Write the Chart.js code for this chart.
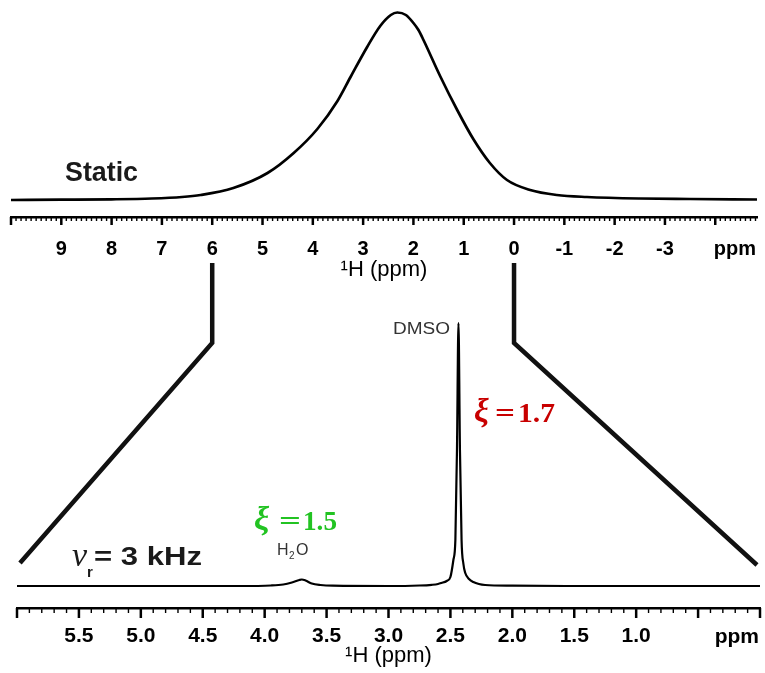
<!DOCTYPE html>
<html>
<head>
<meta charset="utf-8">
<title>1H NMR: static vs 3 kHz MAS</title>
<script src="https://cdn.jsdelivr.net/npm/chart.js@4.4.0/dist/chart.umd.min.js"></script>
<style>
  body { margin: 0; background: #fff; }
  #wrap { position: relative; width: 765px; height: 673px; }
  #wrap canvas { position: absolute; left: 0; top: 0; }
</style>
</head>
<body>
<div id="wrap">
  <canvas id="static-chart" width="765" height="300"></canvas>
  <canvas id="mas-chart" width="765" height="673"></canvas>
</div>
<script>
// static spectrum (ppm, intensity in px above baseline)
const staticPpm = [10.0, 9.0, 8.0, 7.2, 6.6, 6.23, 5.58, 4.9, 4.38, 3.91, 3.51, 3.25, 2.92, 2.66, 2.45, 2.32, 2.15, 2.0, 1.9, 1.8, 1.47, 1.13, 0.81, 0.48, 0.14, -0.32, -0.85, -1.45, -2.5, -3.5, -4.83];
const staticInt = [0, 0.3, 0.7, 1.5, 3, 5, 12, 27, 47, 71, 99, 123, 153, 174, 185, 187.5, 185, 177, 170, 160, 124, 90, 61, 37, 20, 10, 5, 3, 1.5, 1, 0.5];

// 3 kHz MAS spectrum (H2O near 3.7 ppm, DMSO at 2.44 ppm)
const masPpm = [6.0, 4.2, 3.95, 3.85, 3.78, 3.72, 3.7, 3.67, 3.62, 3.55, 3.45, 3.0, 2.75, 2.65, 2.6, 2.573, 2.53, 2.5, 2.476, 2.46, 2.447, 2.435, 2.423, 2.41, 2.395, 2.38, 2.35, 2.315, 2.27, 2.22, 2.0, 1.5, 0.0];
const masInt = [0, 0, 0.5, 1.5, 3.5, 6, 6.5, 5.5, 2.5, 1, 0.3, 0, 0.5, 1.2, 2, 3, 5, 9, 26, 46, 136, 263, 136, 46, 22, 13, 7, 4, 2, 1, 0.3, 0, 0];

// labelled ticks
const staticTicks = [9, 8, 7, 6, 5, 4, 3, 2, 1, 0, -1, -2, -3];
const masTicks = [5.5, 5.0, 4.5, 4.0, 3.5, 3.0, 2.5, 2.0, 1.5, 1.0];

const SANS = "'Liberation Sans', Arial, sans-serif";
const SERIF = "'Liberation Serif', 'Times New Roman', serif";

// major + minor tick marks hanging under the axis line
function tickMarks(from, to, majorEvery, majorLen, minorLen) {
  return {
    id: 'tickMarks',
    afterDraw(chart) {
      const sx = chart.scales.x;
      const y0 = chart.chartArea.bottom;
      const ctx = chart.ctx;
      const n = Math.round((from - to) / 0.1);
      ctx.save();
      ctx.strokeStyle = '#000';
      for (let i = 0; i <= n; i++) {
        const major = i % majorEvery === 0;
        const px = sx.getPixelForValue(from - i * 0.1);
        ctx.lineWidth = major ? 2.5 : 1.4;
        ctx.beginPath();
        ctx.moveTo(px, y0);
        ctx.lineTo(px, y0 + (major ? majorLen : minorLen));
        ctx.stroke();
      }
      ctx.restore();
    }
  };
}

// text squeezed/stretched to a given width (the figure is a bit wide)
function fitText(ctx, text, x, y, w) {
  const m = ctx.measureText(text).width;
  ctx.save();
  ctx.translate(x, y);
  ctx.scale(w / m, 1);
  ctx.fillText(text, 0, 0);
  ctx.restore();
}

function lineData(xs, ys) {
  return xs.map((p, i) => ({ x: p, y: ys[i] }));
}

function axisOpts(min, max, tickVals, fmt, height, tickSize, tickPad, titlePad) {
  return {
    type: 'linear',
    min: min,
    max: max,
    reverse: true,
    afterBuildTicks: s => { s.ticks = tickVals.map(v => ({ value: v })); },
    afterFit: s => { s.height = height; },
    grid: { display: false, drawTicks: false },
    border: { display: true, color: '#000', width: 2.5 },
    ticks: {
      autoSkip: false,
      maxRotation: 0,
      padding: tickPad,
      color: '#000',
      font: { family: SANS, size: tickSize, weight: 'bold' },
      callback: fmt
    },
    title: {
      display: true,
      text: '¹H (ppm)',
      color: '#000',
      font: { family: SANS, size: 22 },
      padding: { top: 0, bottom: titlePad }
    }
  };
}

const topChart = new Chart(document.getElementById('static-chart'), {
  type: 'line',
  data: {
    datasets: [{
      data: lineData(staticPpm, staticInt),
      borderColor: '#000',
      borderWidth: 2.7,
      pointRadius: 0,
      cubicInterpolationMode: 'monotone',
      fill: false
    }]
  },
  options: {
    responsive: false,
    animation: false,
    events: [],
    layout: { padding: { left: 11, right: 8, top: 0, bottom: 0 } },
    plugins: { legend: { display: false }, tooltip: { enabled: false } },
    scales: {
      x: axisOpts(-4.83, 10, staticTicks, v => String(v), 83, 20, 20, 17),
      y: { display: false, min: -17, max: 200 }
    }
  },
  plugins: [tickMarks(10, -4.8, 10, 8, 4), {
    id: 'staticText',
    afterDraw(chart) {
      const ctx = chart.ctx;
      const a = chart.chartArea;
      ctx.save();
      ctx.fillStyle = '#000';
      ctx.font = 'bold 20px ' + SANS;
      ctx.textAlign = 'right';
      ctx.textBaseline = 'middle';
      ctx.fillText('ppm', a.right - 1, 249);
      ctx.textAlign = 'left';
      ctx.fillStyle = '#1a1a1a';
      ctx.font = 'bold 27px ' + SANS;
      ctx.textBaseline = 'alphabetic';
      fitText(ctx, 'Static', 65, 181, 73);
      ctx.restore();
    }
  }]
});

new Chart(document.getElementById('mas-chart'), {
  type: 'line',
  data: {
    datasets: [{
      data: lineData(masPpm, masInt),
      borderColor: '#000',
      borderWidth: 2.2,
      pointRadius: 0,
      cubicInterpolationMode: 'monotone',
      fill: false
    }]
  },
  options: {
    responsive: false,
    animation: false,
    events: [],
    layout: { padding: { left: 17, right: 5, top: 300, bottom: 0 } },
    plugins: { legend: { display: false }, tooltip: { enabled: false } },
    scales: {
      x: axisOpts(0, 6, masTicks, v => v.toFixed(1), 65, 21, 16, 4),
      y: { display: false, min: -22, max: 286 }
    }
  },
  plugins: [tickMarks(6, 0, 5, 10, 5), {
    id: 'masText',
    afterDraw(chart) {
      const ctx = chart.ctx;
      const a = chart.chartArea;
      const tx = topChart.scales.x;
      const bx = chart.scales.x;

      // zoom connectors from 6 and 0 ppm of the static axis
      const l = tx.getPixelForValue(6);
      const r = tx.getPixelForValue(0);
      ctx.save();
      ctx.strokeStyle = '#111';
      ctx.lineWidth = 4.5;
      ctx.lineJoin = 'miter';
      ctx.beginPath();
      ctx.moveTo(l, 263);
      ctx.lineTo(l, 343);
      ctx.lineTo(bx.getPixelForValue(6) + 3, 563);
      ctx.stroke();
      ctx.beginPath();
      ctx.moveTo(r, 263);
      ctx.lineTo(r, 343);
      ctx.lineTo(bx.getPixelForValue(0) - 3, 565);
      ctx.stroke();

      ctx.fillStyle = '#000';
      ctx.font = 'bold 21px ' + SANS;
      ctx.textAlign = 'right';
      ctx.textBaseline = 'middle';
      ctx.fillText('ppm', a.right - 1, 637);
      ctx.textAlign = 'left';

      ctx.textBaseline = 'alphabetic';
      // spinning rate
      ctx.fillStyle = '#1a1a1a';
      ctx.font = 'italic 34px ' + SERIF;
      ctx.fillText('\u03bd', 72, 566);
      ctx.font = 'bold 15px ' + SANS;
      ctx.fillText('r', 87, 577);
      ctx.font = 'bold 26px ' + SANS;
      fitText(ctx, '= 3 kHz', 94, 565, 108);

      // peak labels
      ctx.fillStyle = '#333';
      ctx.font = '16px ' + SANS;
      ctx.fillText('H', 277, 555);
      ctx.font = '10px ' + SANS;
      ctx.fillText('2', 289, 559);
      ctx.font = '16px ' + SANS;
      ctx.fillText('O', 296, 555);
      fitText(ctx, 'DMSO', 393, 334, 57);

      // xi values
      ctx.fillStyle = '#22c322';
      ctx.font = 'bold italic 34px ' + SERIF;
      ctx.fillText('\u03be', 254, 530);
      ctx.font = 'bold 28px ' + SERIF;
      fitText(ctx, '=', 279, 530, 22);
      fitText(ctx, '1.5', 303, 530, 34);

      ctx.fillStyle = '#c80000';
      ctx.font = 'bold italic 33px ' + SERIF;
      ctx.fillText('\u03be', 474, 422);
      ctx.font = 'bold 28px ' + SERIF;
      fitText(ctx, '=', 495, 422, 20);
      fitText(ctx, '1.7', 518, 422, 37);
      ctx.restore();
    }
  }]
});
</script>
</body>
</html>
